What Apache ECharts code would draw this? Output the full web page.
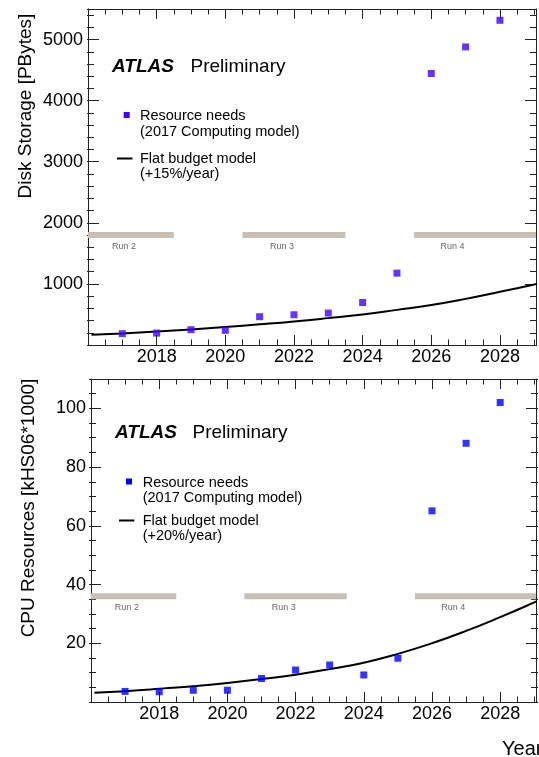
<!DOCTYPE html>
<html><head><meta charset="utf-8">
<script src="https://cdn.jsdelivr.net/npm/echarts@6/dist/echarts.min.js"></script>
<style>html,body{margin:0;padding:0;background:#fff}#c{width:539px;height:757px}</style>
</head><body><div id="c"></div>
<script>
// ---------- data ----------
const years = [2017, 2018, 2019, 2020, 2021, 2022, 2023, 2024, 2025, 2026, 2027, 2028];
const diskNeeds = [185, 195, 250, 240, 463, 495, 523, 696, 1176, 4444, 4879, 5315];
const cpuNeeds = [3.6, 3.5, 4.0, 4.0, 8.0, 10.9, 12.6, 9.2, 14.9, 65.1, 88.1, 102.0];
const budgetYears = [2016.1, 2017, 2018, 2019, 2020, 2021, 2022, 2023, 2024, 2025, 2026, 2027, 2028, 2029, 2029.1];
const diskBudget = [168, 190, 220, 255, 295, 338, 385, 440, 500, 575, 655, 755, 870, 990, 1005];
const cpuBudget = [3.15, 3.7, 4.5, 5.4, 6.5, 7.8, 9.3, 11.2, 13.4, 16.4, 20.0, 24.2, 28.9, 33.9, 34.5];
const runNames = ['Run 2', 'Run 3', 'Run 4'];
const runStart = [2016, 2020.5, 2025.5];
const runEnd = [2018.5, 2023.5, 2029.1];
const runLabelAt = [2016.7, 2021.3, 2026.27];
const diskRunLevel = 1800;
const cpuRunLevel = 36;
const xMin = 2016, xMax = 2029.05;
const diskMax = 5500, cpuMax = 110;

// ---------- styling ----------
const AX = '#222';
const FONT = '"Liberation Sans", Arial, Helvetica, sans-serif';
const GRIDS = [
  { left: 88, top: 9, width: 449, height: 336 },
  { left: 91, top: 379, width: 447, height: 323 }
];

function tick(len) {
  return { show: true, inside: false, length: len, lineStyle: { color: AX, width: 1 } };
}
function noTick() { return { show: false }; }
function line(show) { return { show: show, onZero: false, lineStyle: { color: AX, width: 1 } }; }

// Ticks drawn inside the frame: an axis placed on the opposite side (negative offset)
function xAxes(g) {
  const H = GRIDS[g].height;
  const base = { type: 'value', gridIndex: g, min: xMin, max: xMax, splitLine: { show: false }, axisLabel: { show: false } };
  const lab = {
    show: true, margin: 3, fontSize: 18, color: '#000', fontFamily: FONT,
    formatter: v => (v >= 2017 && Math.abs(v % 2) < 1e-6) ? String(v) : ''
  };
  return [
    Object.assign({}, base, { position: 'bottom', interval: 2, axisLine: line(true), axisTick: noTick(), axisLabel: lab }),
    Object.assign({}, base, { position: 'top', interval: 2, axisLine: line(true), axisTick: noTick() }),
    Object.assign({}, base, { position: 'top', offset: -H, interval: 2, axisLine: line(false), axisTick: tick(10) }),
    Object.assign({}, base, { position: 'top', offset: -H, interval: 0.5, axisLine: line(false), axisTick: tick(5.5) }),
    Object.assign({}, base, { position: 'bottom', offset: -H, interval: 2, axisLine: line(false), axisTick: tick(10) }),
    Object.assign({}, base, { position: 'bottom', offset: -H, interval: 0.5, axisLine: line(false), axisTick: tick(5.5) })
  ];
}
function yAxes(g, max, major, minor) {
  const W = GRIDS[g].width;
  const base = { type: 'value', gridIndex: g, min: 0, max: max, splitLine: { show: false }, axisLabel: { show: false } };
  const lab = {
    show: true, margin: 5, fontSize: 18, color: '#000', fontFamily: FONT,
    formatter: v => (v > 0 && Math.abs(v % major) < 1e-6) ? String(v) : ''
  };
  return [
    Object.assign({}, base, { position: 'left', interval: major, axisLine: line(true), axisTick: noTick(), axisLabel: lab }),
    Object.assign({}, base, { position: 'right', interval: major, axisLine: line(true), axisTick: noTick() }),
    Object.assign({}, base, { position: 'right', offset: -W, interval: major, axisLine: line(false), axisTick: tick(12) }),
    Object.assign({}, base, { position: 'right', offset: -W, interval: minor, axisLine: line(false), axisTick: tick(7) }),
    Object.assign({}, base, { position: 'left', offset: -W, interval: major, axisLine: line(false), axisTick: tick(12) }),
    Object.assign({}, base, { position: 'left', offset: -W, interval: minor, axisLine: line(false), axisTick: tick(7) })
  ];
}

function runSeries(xi, yi, level) {
  return {
    type: 'custom', xAxisIndex: xi, yAxisIndex: yi, silent: true, z: 1,
    data: runNames.map((n, i) => [runStart[i], runEnd[i], runLabelAt[i], level]),
    renderItem: function (params, api) {
      const lvl = api.value(3);
      const p0 = api.coord([api.value(0), lvl]);
      const p1 = api.coord([api.value(1), lvl]);
      const pl = api.coord([api.value(2), lvl]);
      const cs = params.coordSys;
      const x1 = Math.min(p1[0], cs.x + cs.width);
      return {
        type: 'group', children: [
          { type: 'rect', shape: { x: p0[0], y: p0[1] - 3, width: x1 - p0[0], height: 6 }, style: { fill: '#c9bfb6' } },
          { type: 'text', x: pl[0], y: p0[1] + 11, style: { text: runNames[params.dataIndex], fill: '#666', font: '9px ' + FONT, align: 'left', verticalAlign: 'middle' } }
        ]
      };
    }
  };
}

function txt(x, y, s, font, extra) {
  return Object.assign({ type: 'text', x: x, y: y, silent: true, style: { text: s, font: font, fill: '#000', align: 'left', verticalAlign: 'middle' } }, extra || {});
}

const LEG = '14.5px ' + FONT;
const graphics = [
  txt(26, 106, '', '', { rotation: Math.PI / 2, style: { text: 'Disk Storage [PBytes]', font: '19px ' + FONT, fill: '#000', align: 'center', verticalAlign: 'middle' } }),
  txt(29, 508, '', '', { rotation: Math.PI / 2, style: { text: 'CPU Resources [kHS06*1000]', font: '19px ' + FONT, fill: '#000', align: 'center', verticalAlign: 'middle' } }),
  txt(502, 749, 'Year', '20px ' + FONT),
  txt(112, 67, 'ATLAS', 'italic bold 19px ' + FONT),
  txt(190.5, 67, 'Preliminary', '19px ' + FONT),
  { type: 'rect', silent: true, shape: { x: 123.7, y: 112, width: 6, height: 6 }, style: { fill: '#4000ff' } },
  txt(140, 116, 'Resource needs', LEG),
  txt(140, 131.5, '(2017 Computing model)', LEG),
  { type: 'line', silent: true, shape: { x1: 117, y1: 158.5, x2: 132.5, y2: 158.5 }, style: { stroke: '#000', lineWidth: 2 } },
  txt(140, 158.5, 'Flat budget model', LEG),
  txt(140, 174, '(+15%/year)', LEG),
  txt(115, 433, 'ATLAS', 'italic bold 19px ' + FONT),
  txt(192.5, 433, 'Preliminary', '19px ' + FONT),
  { type: 'rect', silent: true, shape: { x: 126, y: 478.5, width: 6, height: 6 }, style: { fill: '#0000ff' } },
  txt(142.7, 482.5, 'Resource needs', LEG),
  txt(142.7, 497.5, '(2017 Computing model)', LEG),
  { type: 'line', silent: true, shape: { x1: 119, y1: 520.5, x2: 134.3, y2: 520.5 }, style: { stroke: '#000', lineWidth: 2 } },
  txt(142.7, 520.5, 'Flat budget model', LEG),
  txt(142.7, 536, '(+20%/year)', LEG)
];

const option = {
  animation: false,
  backgroundColor: '#fff',
  grid: GRIDS,
  xAxis: xAxes(0).concat(xAxes(1)),
  yAxis: yAxes(0, diskMax, 1000, 200).concat(yAxes(1, cpuMax, 20, 5)),
  series: [
    runSeries(0, 0, diskRunLevel),
    {
      type: 'line', name: 'Flat budget model', xAxisIndex: 0, yAxisIndex: 0, smooth: true, showSymbol: false, z: 3,
      lineStyle: { color: '#000', width: 2 },
      data: budgetYears.map((y, i) => [y, diskBudget[i]])
    },
    {
      type: 'scatter', name: 'Resource needs', xAxisIndex: 0, yAxisIndex: 0, symbol: 'rect', symbolSize: 7, z: 4,
      itemStyle: { color: '#4000ff' },
      data: years.map((y, i) => [y, diskNeeds[i]])
    },
    runSeries(6, 6, cpuRunLevel),
    {
      type: 'line', name: 'Flat budget model', xAxisIndex: 6, yAxisIndex: 6, smooth: true, showSymbol: false, z: 3,
      lineStyle: { color: '#000', width: 2 },
      data: budgetYears.map((y, i) => [y, cpuBudget[i]])
    },
    {
      type: 'scatter', name: 'Resource needs', xAxisIndex: 6, yAxisIndex: 6, symbol: 'rect', symbolSize: 7, z: 4,
      itemStyle: { color: '#0000ff' },
      data: years.map((y, i) => [y, cpuNeeds[i]])
    }
  ],
  graphic: graphics
};

const chart = echarts.init(document.getElementById('c'), null, { renderer: 'canvas' });
chart.setOption(option);
</script>
</body></html>
